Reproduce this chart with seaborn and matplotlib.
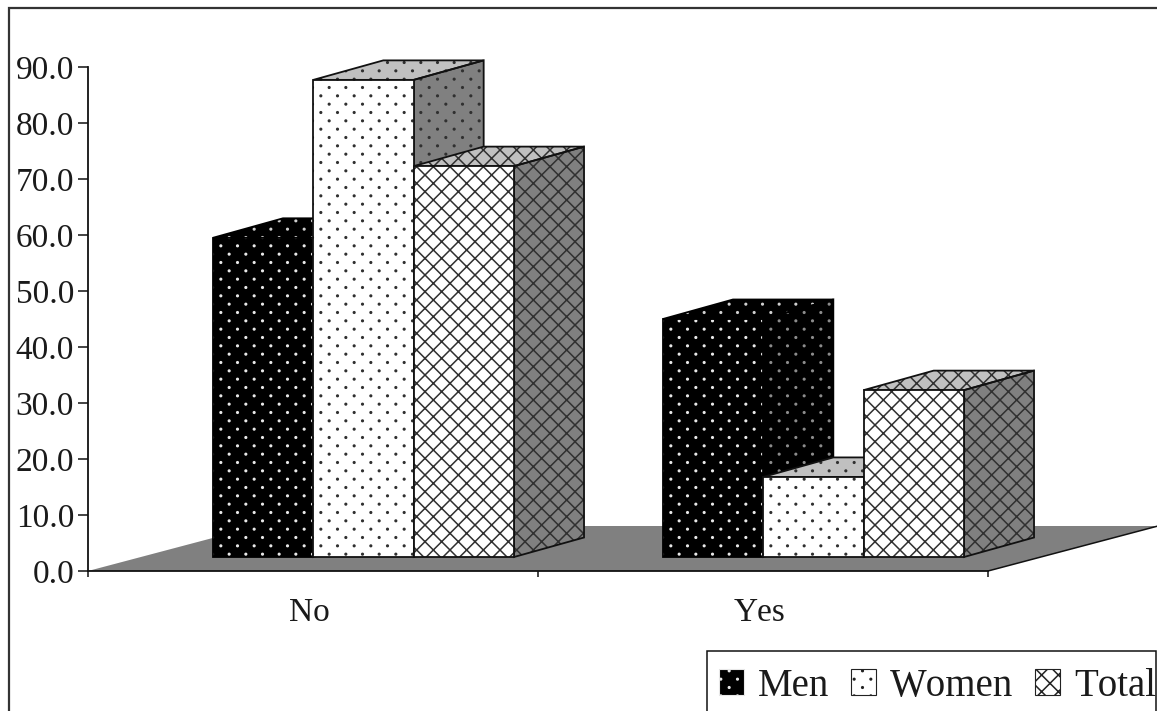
import matplotlib
matplotlib.use("Agg")
import matplotlib.hatch as mhatch
import matplotlib.pyplot as plt
import numpy as np
import pandas as pd
import seaborn as sns
from matplotlib.patches import Patch, Polygon, Rectangle
from matplotlib.path import Path
from matplotlib.transforms import ScaledTranslation

answers = ["No", "Yes"]
groups = ["Men", "Women", "Total"]
men = [57.0, 42.5]
women = [85.2, 14.3]
total = [69.8, 29.8]
y_ticks = [0, 10, 20, 30, 40, 50, 60, 70, 80, 90]

WIDTH, HEIGHT = 1157, 711
PX_X = 450.0  # pixels per category
PX_Y = 5.6    # pixels per percent
DEPTH_X, DEPTH_Y = 70 / PX_X, 19.5 / PX_Y
SHIFT_X, LIFT_Y = 50.5 / PX_X, 14 / PX_Y

# group: face, side, top, hatch, hatch colours (front, side, top), outline
styles = {
    "Men": ("#000000", "#000000", "#000000", ".", ("#e8e8e8", "#8c8c8c", "#cfcfcf"), "#000000"),
    "Women": ("#ffffff", "#808080", "#c0c0c0", ".", ("#303030",) * 3, "#111111"),
    "Total": ("#ffffff", "#808080", "#c0c0c0", "xx", ("#303030",) * 3, "#111111"),
}


class StaggeredDots(mhatch.HatchPatternBase):
    # the stock "." hatch has equal row and column steps, this chart has columns twice as wide
    rows, cols, radius = 12, 6, 0.008

    def __init__(self, hatch, density):
        self.circle = Path.unit_circle()
        self.count = self.rows * self.cols if "." in hatch else 0
        self.num_vertices = self.count * len(self.circle.vertices)

    def set_vertices_and_codes(self, vertices, codes):
        size = len(self.circle.vertices)
        cursor = 0
        for row in range(self.rows):
            for col in range(self.cols):
                x = (col + 0.25 + 0.5 * (row % 2)) / self.cols
                y = (row + 0.5) / self.rows
                vertices[cursor:cursor + size] = self.circle.vertices * self.radius + np.array([x, y])
                codes[cursor:cursor + size] = self.circle.codes
                cursor += size


mhatch._hatch_types = [StaggeredDots if t is mhatch.SmallFilledCircles else t for t in mhatch._hatch_types]

sns.set_theme(style="ticks")
plt.rcParams.update({
    "font.family": ["Liberation Serif", "DejaVu Serif"],
    "hatch.linewidth": 1.1,
    "text.kerning_factor": 6,
    "text.color": "#1a1a1a",
    "xtick.color": "#1a1a1a",
    "ytick.color": "#1a1a1a",
})

df = pd.DataFrame({
    "answer": answers * 3,
    "group": [g for g in groups for _ in answers],
    "percent": men + women + total,
})

fig = plt.figure(figsize=(WIDTH / 100, HEIGHT / 100), dpi=100, facecolor="white")
ax = fig.add_axes([88 / WIDTH, 1 - 571 / HEIGHT, 900 / WIDTH, 504 / HEIGHT])
ax.patch.set_alpha(0)

sns.barplot(
    data=df, x="answer", y="percent", hue="group", order=answers, hue_order=groups,
    width=0.669, gap=0, bottom=LIFT_Y, legend=False, ax=ax,
)
ax.set_xlim(-0.5, 1.5)
ax.set_ylim(0, 90)


def face(points, fill, hatch, hatch_color, outline, order):
    ax.add_patch(Polygon(points, closed=True, facecolor=fill, edgecolor=hatch_color,
                         hatch=hatch, linewidth=0, zorder=order, clip_on=False))
    ax.add_patch(Polygon(points, closed=True, fill=False, edgecolor=outline,
                         linewidth=1.3, zorder=order + 0.1, clip_on=False))


# floor of the 3D box
floor_dx, floor_dy = 170 / PX_X, 45 / PX_Y
ax.add_patch(Polygon([(-0.5, 0), (1.5, 0), (1.5 + floor_dx, floor_dy), (-0.5 + floor_dx, floor_dy)],
                     closed=True, facecolor="#808080", edgecolor="none", zorder=0.5, clip_on=False))
ax.plot([1.5, 1.5 + floor_dx], [0, floor_dy], color="#111111", lw=1.1, zorder=0.6, clip_on=False)

for i, (group, bars) in enumerate(zip(groups, ax.containers)):
    fill, side, top, hatch, (front_dots, side_dots, top_dots), outline = styles[group]
    for bar in bars:
        bar.set_x(bar.get_x() + SHIFT_X)
        x0, x1 = bar.get_x(), bar.get_x() + bar.get_width()
        y0, y1 = bar.get_y(), bar.get_y() + bar.get_height()
        base = 2 + i * 2
        face([(x1, y0), (x1 + DEPTH_X, y0 + DEPTH_Y), (x1 + DEPTH_X, y1 + DEPTH_Y), (x1, y1)],
             side, hatch, side_dots, outline, base)
        face([(x0, y1), (x1, y1), (x1 + DEPTH_X, y1 + DEPTH_Y), (x0 + DEPTH_X, y1 + DEPTH_Y)],
             top, hatch, top_dots, outline, base)
        bar.set_facecolor(fill)
        bar.set_edgecolor(front_dots)
        bar.set_hatch(hatch)
        bar.set_linewidth(0)
        bar.set_zorder(base + 1)
        ax.add_patch(Rectangle((x0, y0), x1 - x0, y1 - y0, fill=False, edgecolor=outline,
                               linewidth=1.3, zorder=base + 1.1, clip_on=False))

sns.despine(ax=ax)
for spine in ax.spines.values():
    spine.set_linewidth(1.3)
    spine.set_color("#111111")
    spine.set_zorder(1)
ax.set_xlabel("")
ax.set_ylabel("")
ax.set_yticks(y_ticks, [f"{v:.1f}" for v in y_ticks], fontsize=24)
ax.set_xticks([-0.5, 0.5, 1.5], minor=True)
ax.tick_params(axis="x", which="major", length=0, labelsize=24, pad=19)
ax.tick_params(axis="x", which="minor", length=4.5, width=1.1, color="#111111")
ax.tick_params(axis="y", length=7, width=1.1, color="#111111", pad=3)
for label in ax.get_xticklabels():
    label.set_transform(label.get_transform() + ScaledTranslation(-3.5 / 100, 0, fig.dpi_scale_trans))

# outer chart border, runs off the picture on the right and bottom
fig.add_artist(Rectangle((9 / WIDTH, -0.05), 1.1, 1.05 - 8 / HEIGHT, transform=fig.transFigure,
                         fill=False, edgecolor="#333333", linewidth=1.6))

# legend box is open at the bottom of the picture
fig.add_artist(Rectangle((707 / WIDTH, -0.05), (1156 - 707) / WIDTH, 0.05 + 1 - 651 / HEIGHT,
                         transform=fig.transFigure, facecolor="white", edgecolor="#111111",
                         linewidth=1.1, zorder=10))

handles = [
    Patch(facecolor=styles[g][0], edgecolor=styles[g][4][0] if g == "Men" else "#222222",
          hatch=styles[g][3], linewidth=0.8)
    for g in groups
]
legend = fig.legend(
    handles, groups, ncol=3, loc="upper left",
    bbox_to_anchor=(707 / WIDTH, 1 - 656 / HEIGHT), bbox_transform=fig.transFigure,
    fontsize=28, frameon=False,
    handlelength=0.65, handleheight=0.65, handletextpad=0.36, columnspacing=0.55,
    borderpad=0.3, borderaxespad=0,
)
legend.set_zorder(20)

fig.savefig("out.png", dpi=100)
plt.close(fig)
